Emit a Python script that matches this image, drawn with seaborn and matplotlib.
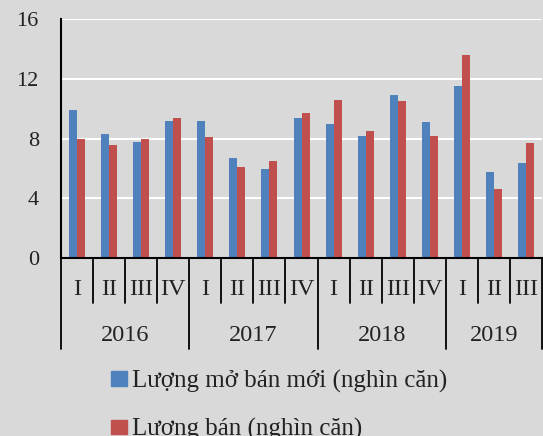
import matplotlib

matplotlib.use("Agg")
import matplotlib.pyplot as plt  # noqa: E402
import matplotlib.transforms as mtransforms  # noqa: E402
import pandas as pd
import seaborn as sns

YEARS = ["2016", "2017", "2018", "2019"]
QUARTERS = [
    ["I", "II", "III", "IV"],
    ["I", "II", "III", "IV"],
    ["I", "II", "III", "IV"],
    ["I", "II", "III"],
]
OPENED = [9.9, 8.3, 7.8, 9.2, 9.2, 6.7, 6.0, 9.4, 9.0, 8.2, 10.9, 9.1, 11.5, 5.8, 6.4]
SOLD = [8.0, 7.6, 8.0, 9.4, 8.1, 6.1, 6.5, 9.7, 10.6, 8.5, 10.5, 8.2, 13.6, 4.6, 7.7]
SERIES = ["Lượng mở bán mới (nghìn căn)", "Lượng bán (nghìn căn)"]
COLORS = ["#4f81bd", "#c0504d"]
BG = "#d9d9d9"
TXT = "#222222"

keys = [f"{y}-{q}" for y, qs in zip(YEARS, QUARTERS) for q in qs]
df = pd.concat(
    [
        pd.DataFrame({"key": keys, "value": OPENED, "series": SERIES[0]}),
        pd.DataFrame({"key": keys, "value": SOLD, "series": SERIES[1]}),
    ]
)

sns.set_style("whitegrid", {"axes.facecolor": BG, "figure.facecolor": BG,
                            "grid.color": "white", "axes.edgecolor": "black"})
plt.rcParams["font.family"] = ["Liberation Serif", "DejaVu Serif"]

fig = plt.figure(figsize=(5.43, 4.36), dpi=100)
ax = fig.add_axes([0.1123, 0.4076, 0.886, 0.5488])
sns.barplot(data=df, x="key", y="value", hue="series", order=keys,
            hue_order=SERIES, palette=COLORS, width=0.5, gap=0,
            saturation=1, ax=ax, legend=False, linewidth=0, edgecolor="none")

ax.set_ylim(0, 16)
ax.set_yticks([0, 4, 8, 12, 16])
ax.set_xlim(-0.5, len(keys) - 0.5)
ax.grid(axis="y", color="white", linewidth=1.5)
ax.grid(axis="x", visible=False)
ax.set_xlabel("")
ax.set_ylabel("")
ax.set_xticks([])
for side in ["top", "right"]:
    ax.spines[side].set_visible(False)
ax.spines["left"].set_linewidth(1.5)
ax.spines["bottom"].set_linewidth(1.5)
ax.tick_params(axis="y", labelsize=16, length=0, pad=16, colors=TXT)

trans = mtransforms.blended_transform_factory(ax.transData, ax.transAxes)
ax_h = 0.5488 * 436.0


def ay(py):
    # pixel row below the axes bottom -> axes fraction
    return -(py - 258.3) / ax_h


i = 0
for year, qs in zip(YEARS, QUARTERS):
    start = i
    for q in qs:
        ax.text(i, ay(290), q, transform=trans, ha="center", va="center",
                fontsize=17.5, color=TXT)
        if i != start:
            ax.plot([i - 0.5, i - 0.5], [0, ay(303)], transform=trans,
                    color="black", lw=1.3, clip_on=False)
        i += 1
    ax.plot([start - 0.5, start - 0.5], [0, ay(349)], transform=trans,
            color="black", lw=1.3, clip_on=False)
    ax.text((start + i - 1) / 2, ay(336), year, transform=trans, ha="center",
            va="center", fontsize=17.5, color=TXT)
ax.plot([i - 0.5, i - 0.5], [0, ay(349)], transform=trans,
        color="black", lw=1.3, clip_on=False)

handles = [plt.Rectangle((0, 0), 1, 1, color=c) for c in COLORS]
fig.legend(handles, SERIES, loc="upper left", bbox_to_anchor=(0.205, 0.152),
           frameon=False, fontsize=18, handlelength=0.64, handleheight=0.5,
           handletextpad=0.2, labelspacing=1.02, borderaxespad=0,
           borderpad=0, labelcolor=TXT)

fig.savefig("out.png", dpi=100, facecolor=BG)
